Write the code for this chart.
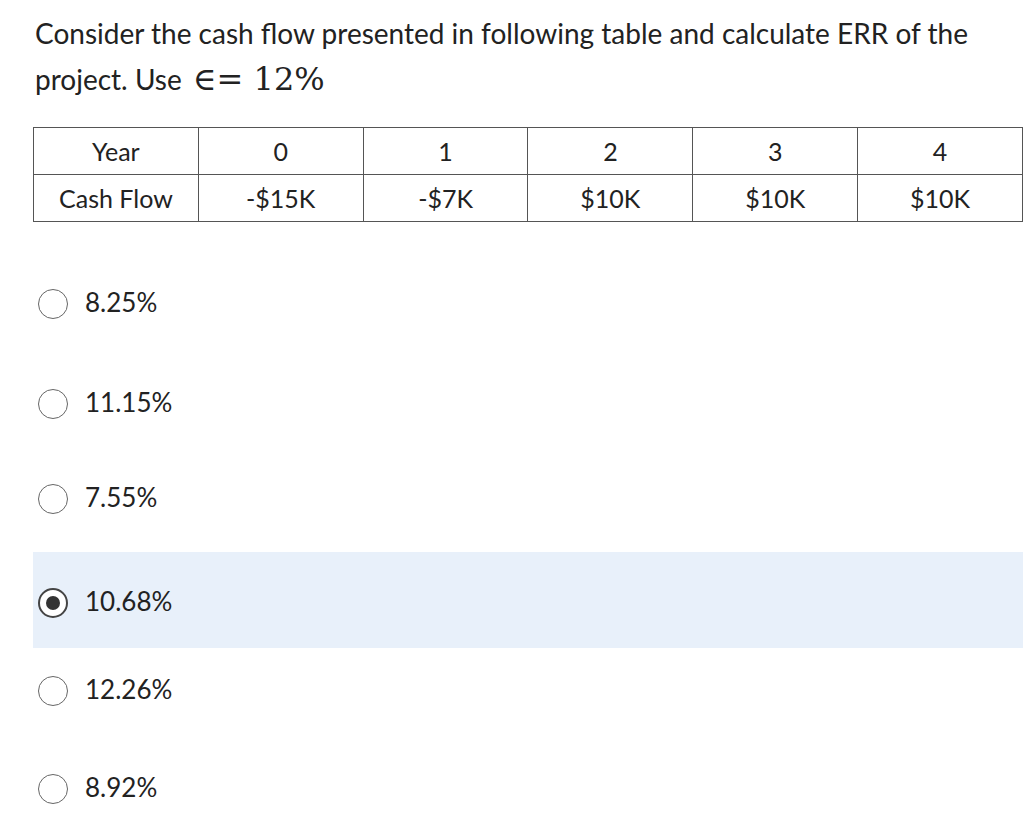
<!DOCTYPE html>
<html><head><meta charset="utf-8">
<script src="https://cdn.jsdelivr.net/npm/chart.js@4"></script>
<style>
body{margin:0;background:#fff;font-family:Lato,"Open Sans",sans-serif;color:#222;width:1024px;height:826px;overflow:hidden;position:relative}
.q{position:absolute;left:35px;top:10px;font-size:28px;line-height:46px;width:960px}
.q .m{font-family:"DejaVu Serif","Liberation Serif",serif;font-size:32px;margin-left:4px}
table{position:absolute;left:33px;top:127px;border-collapse:collapse;width:990px;font-size:25px}
td{border:1.5px solid #555;height:46px;text-align:center;width:164px;padding:0}
.opt{position:absolute;left:33px;width:990px;height:96px;font-size:26px}
.opt .c{position:absolute;left:5px;top:36px;width:30px;height:30px;border:1.5px solid #666;border-radius:50%;box-sizing:border-box;background:#fff}
.opt .t{position:absolute;left:52px;top:33px}
.sel{background:#e8f0fa}
.sel .c{border:2px solid #444}
.sel .c::after{content:"";position:absolute;left:6px;top:6px;width:14px;height:14px;border-radius:50%;background:#333}
</style></head><body>
<div class="q">Consider the cash flow presented in following table and calculate ERR of the project. Use <span class="m">∈= 12%</span></div>
<table id="tb"></table>
<div id="opts"></div>
<script>
const years = ["0","1","2","3","4"];
const cashFlows = ["-$15K","-$7K","$10K","$10K","$10K"];
const options = ["8.25%","11.15%","7.55%","10.68%","12.26%","8.92%"];
const selectedIndex = 3;
const tb=document.getElementById('tb');
tb.innerHTML='<tr><td>Year</td>'+years.map(y=>'<td>'+y+'</td>').join('')+'</tr><tr><td>Cash Flow</td>'+cashFlows.map(c=>'<td>'+c+'</td>').join('')+'</tr>';
const tops=[253,353,448,552,640,738];
document.getElementById('opts').innerHTML=options.map((o,i)=>'<div class="opt'+(i===selectedIndex?' sel':'')+'" style="top:'+tops[i]+'px"><div class="c"></div><div class="t">'+o+'</div></div>').join('');
</script>
</body></html>
